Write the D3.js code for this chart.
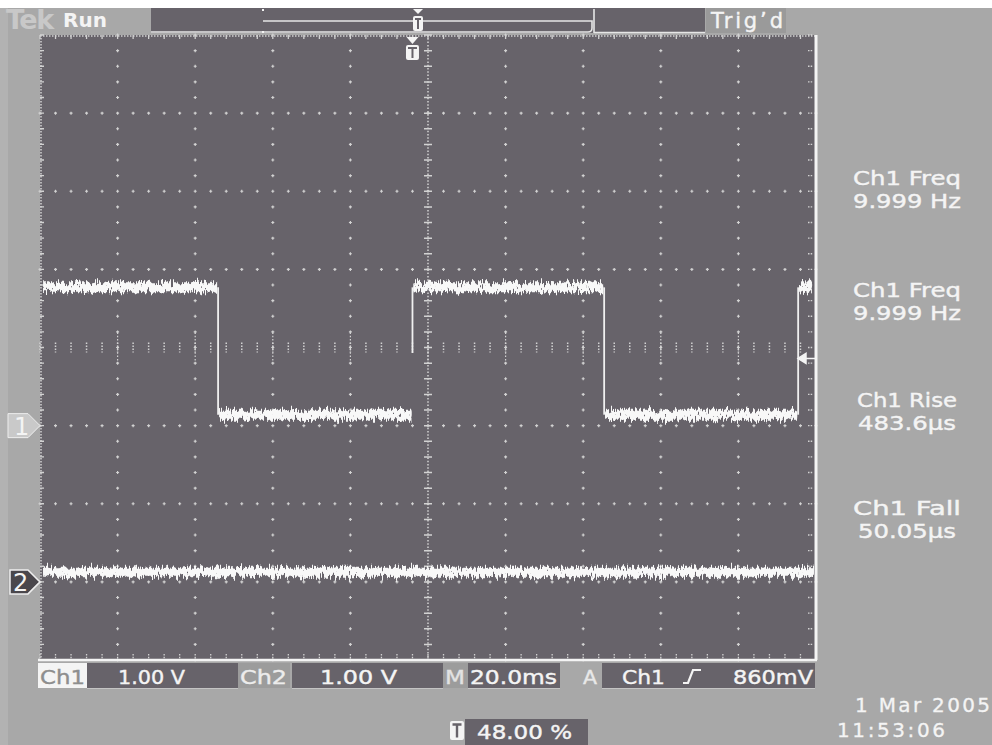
<!DOCTYPE html>
<html>
<head>
<meta charset="utf-8">
<script src="https://cdn.jsdelivr.net/npm/d3@7/dist/d3.min.js"></script>
<style>
  html, body { margin: 0; padding: 0; background: #a8a8a8; }
  svg { display: block; }
  text { font-family: "DejaVu Sans", "Noto Sans", sans-serif; }
</style>
</head>
<body>
<svg id="scope" width="992" height="745"></svg>
<script>
// ---- acquisition settings ----
const timePerDiv = 20;          // ms / div
const triggerPos = 0.48;        // trigger position in record
const ch1Offset = 5;            // divisions above ch1 ground
const ch2Offset = 7;            // divisions above ch2 ground
const triggerLevel = 0.86;      // V

// ---- channel 1: square wave, levels (V) between edges (ms) ----
const ch1Edges = [-50.1, 0.0, 49.4, 99.4];
const ch1Levels = [1.77, 0.14, 1.77, 0.14, 1.77];
const ch1EdgeSpans = [[1.77, 0.14], [0.93, 1.77], [1.77, 0.14], [0.14, 1.77]];
const traceStart = -95.2, traceEnd = 103.2;

// ---- channel 2: flat level (V) ----
const ch2Level = 0.13;

// ---- readouts ----
const measLabels = ["Ch1 Freq", "Ch1 Freq", "Ch1 Rise", "Ch1 Fall"];
const measValues = ["9.999 Hz", "9.999 Hz", "483.6\u03bcs", "50.05\u03bcs"];
const ch1Scale = "1.00 V", ch2Scale = "1.00 V", timeScale = "20.0ms";
const trigSource = "Ch1", trigLevelText = "860mV";
const trigPosText = "48.00 %";
const dateText = "1 Mar 2005", timeText = "11:53:06";

const svg = d3.select("#scope");
const SCREEN = "#67636a", BG = "#a8a8a8", DOT = "#d2d2d2", WHITE = "#f4f4f4";

const L = 40, R = 816, T = 35, B = 660;
const x = d3.scaleLinear().domain([-triggerPos * 10 * timePerDiv, (1 - triggerPos) * 10 * timePerDiv]).range([L, R]);
const yDiv = d3.scaleLinear().domain([0, 8]).range([T, B]);
const y1 = d3.scaleLinear().domain([ch1Offset - 8, ch1Offset]).range([B, T]);
const y2 = d3.scaleLinear().domain([ch2Offset - 8, ch2Offset]).range([B, T]);
const xDiv = d3.scaleLinear().domain([0, 10]).range([L, R]);

// noise filters for the traces
const defs = svg.append("defs");
[[3, 0.55], [11, 0.8], [29, 0.35]].forEach(([seed, f], i) => {
  const flt = defs.append("filter").attr("id", "noise" + i)
    .attr("filterUnits", "userSpaceOnUse").attr("x", 0).attr("y", 0).attr("width", 992).attr("height", 745);
  flt.append("feTurbulence").attr("type", "fractalNoise").attr("baseFrequency", f + " 0.03")
    .attr("numOctaves", 2).attr("seed", seed).attr("result", "t");
  flt.append("feColorMatrix").attr("in", "t").attr("type", "matrix")
    .attr("values", "0 0 0 0 0.5  0 1 0 0 0  0 0 0 0 0  0 0 0 0 1").attr("result", "m");
  flt.append("feDisplacementMap").attr("in", "SourceGraphic").attr("in2", "m")
    .attr("scale", 20).attr("xChannelSelector", "R").attr("yChannelSelector", "G");
});
const soft = defs.append("filter").attr("id", "soft");
soft.append("feGaussianBlur").attr("stdDeviation", 0.35);

// page background and margins
svg.append("rect").attr("width", 992).attr("height", 745).attr("fill", BG);
svg.append("rect").attr("width", 992).attr("height", 8).attr("fill", "#ffffff");
svg.append("rect").attr("y", 8).attr("width", 8).attr("height", 737).attr("fill", "#b2b2b2");

// screen
svg.append("rect").attr("x", L).attr("y", T).attr("width", R - L).attr("height", B - T).attr("fill", SCREEN);

// ---- graticule ----
const g = svg.append("g").attr("stroke", DOT).attr("fill", "none");
const minorX = d3.range(0, 50 + 1).map(i => xDiv(i / 5));
const minorY = d3.range(0, 40 + 1).map(i => yDiv(i / 5));
const cross = (px, py) => `M${px - 1.5},${py}h3M${px},${py - 1.5}v3`;

// dotted major lines
let p = "";
for (let i = 1; i < 10; i++) if (i !== 5) minorY.forEach(py => p += cross(xDiv(i), py));
for (let j = 1; j < 8; j++) if (j !== 4) minorX.forEach(px => p += cross(px, yDiv(j)));
g.append("path").attr("d", p).attr("stroke-width", 1.2);

// center axes with minor ticks
const cx = xDiv(5), cy = yDiv(4);
g.append("line").attr("x1", cx).attr("x2", cx).attr("y1", T).attr("y2", B)
  .attr("stroke-width", 1.5).attr("stroke-dasharray", "1.5,1.8");
g.append("path").attr("d", minorY.map(py => `M${cx - 4},${py}h8`).join("")).attr("stroke-width", 1.5);
g.append("path").attr("d", minorX.map(px => `M${px},${cy - 5}v10`).join(""))
  .attr("stroke-width", 1.5).attr("stroke-dasharray", "1.5,1.5");
g.append("path").attr("d", d3.range(1, 10).map(i => `M${xDiv(i)},${cy - 15}v30`).join(""))
  .attr("stroke-width", 1.2).attr("stroke-dasharray", "1.5,1.8");

// frame: dotted top and left, solid bottom and right
g.append("path").attr("d", `M${L},${T + 1}H${R}M${L + 1},${T}V${B}`)
  .attr("stroke-width", 1.5).attr("stroke-dasharray", "1.5,1.5");
g.append("path").attr("d", minorX.map(px => `M${px},${T}v4`).join("") + minorY.map(py => `M${L},${py}h4`).join(""))
  .attr("stroke-width", 1.3);
g.append("path").attr("d", minorX.map(px => `M${px},${B - 6}v6`).join("") + minorY.map(py => `M${R - 8},${py}h5`).join(""))
  .attr("stroke-width", 1.3).attr("stroke-dasharray", "1.5,1.2");
svg.append("line").attr("x1", L - 2).attr("x2", R + 1).attr("y1", B).attr("y2", B)
  .attr("stroke", WHITE).attr("stroke-width", 2.5);
svg.append("line").attr("x1", R).attr("x2", R).attr("y1", T).attr("y2", B)
  .attr("stroke", WHITE).attr("stroke-width", 3);

// ---- traces ----
const traces = svg.append("g");
const bounds = [traceStart, ...ch1Edges, traceEnd];
const ch1Segs = ch1Levels.map((v, i) => ({ t0: bounds[i], t1: bounds[i + 1], v }));
[0, 1, 2].forEach(k => {
  traces.append("g").attr("filter", `url(#noise${k})`)
    .selectAll("line").data(ch1Segs).join("line")
    .attr("x1", d => x(d.t0) + (d.t0 === traceStart ? 0 : 1)).attr("x2", d => x(d.t1) - 1)
    .attr("y1", d => y1(d.v)).attr("y2", d => y1(d.v))
    .attr("stroke", "#f8f8f8").attr("stroke-width", k === 2 ? 5 : 6);
  traces.append("line").attr("filter", `url(#noise${k})`)
    .attr("x1", x(traceStart)).attr("x2", x(traceEnd) + 1)
    .attr("y1", y2(ch2Level)).attr("y2", y2(ch2Level))
    .attr("stroke", "#f8f8f8").attr("stroke-width", k === 2 ? 5 : 6);
});
traces.selectAll("line.edge").data(ch1Edges).join("line").attr("class", "edge")
  .attr("x1", d => x(d)).attr("x2", d => x(d))
  .attr("y1", (d, i) => y1(ch1EdgeSpans[i][0])).attr("y2", (d, i) => y1(ch1EdgeSpans[i][1]))
  .attr("stroke", "#f0f0f0").attr("stroke-width", 1.8);

// trigger level arrow on the right
const ty = y1(triggerLevel);
svg.append("path").attr("d", `M${R - 18},${ty}l8,-5v10z M${R - 12},${ty}H${R}`)
  .attr("fill", WHITE).attr("stroke", WHITE).attr("stroke-width", 1.5);

// channel ground markers
const m1 = y1(0), m2 = y2(0);
svg.append("path").attr("d", `M8,${m1 - 12}H28L${L},${m1}L28,${m1 + 12}H8Z`)
  .attr("fill", "#c9c9c9").attr("stroke", "#eeeeee").attr("stroke-width", 1);
svg.append("text").attr("x", 14).attr("y", m1 + 9).attr("font-size", 24).attr("fill", "#f4f4f4").text("1");
svg.append("path").attr("d", `M10,${m2 - 12}H28L${L},${m2}L28,${m2 + 12}H10Z`)
  .attr("fill", "#4a474c").attr("stroke", "#eeeeee").attr("stroke-width", 1.5);
svg.append("text").attr("x", 13).attr("y", m2 + 9).attr("font-size", 24).attr("font-family", "Liberation Serif")
  .attr("fill", "#f4f4f4").text("2");

// trigger time marker below the top bar
const tx = x(0);
svg.append("path").attr("d", `M${tx - 6},37H${tx + 6}L${tx},44Z`).attr("fill", WHITE);
function tIcon(px, py, w, h) {
  svg.append("rect").attr("x", px - w / 2).attr("y", py).attr("width", w).attr("height", h)
    .attr("rx", 2).attr("fill", WHITE);
  svg.append("path").attr("d", `M${px - w / 2 + 2},${py + 3}h${w - 4}M${px},${py + 3}v${h - 5}`)
    .attr("stroke", SCREEN).attr("stroke-width", 2);
}
tIcon(tx, 45, 13, 15);

// ---- top status bar ----
svg.append("text").attr("x", 6).attr("y", 29).attr("font-size", 27).attr("font-weight", "bold")
  .attr("fill", "#c8c8c8").attr("letter-spacing", -1.5).text("Tek");
svg.append("text").attr("x", 63).attr("y", 27).attr("font-size", 20).attr("font-weight", "bold")
  .attr("fill", WHITE).text("Run");
svg.append("rect").attr("x", 151).attr("y", 8).attr("width", 554).attr("height", 25).attr("fill", SCREEN);
svg.append("path").attr("d", "M151,32H588Q592,32 592,28V21H263 M594,9V33 M594,32.5H705")
  .attr("fill", "none").attr("stroke", "#e6e6e6").attr("stroke-width", 1.6);
svg.append("path").attr("d", "M263,9v2M263,31v2").attr("stroke", WHITE).attr("stroke-width", 2);
svg.append("path").attr("d", "M413,9H423L418,14Z").attr("fill", WHITE);
tIcon(418, 16, 10, 15);
svg.append("rect").attr("x", 706).attr("y", 8).attr("width", 80).attr("height", 25).attr("fill", "#9a9a9a");
svg.append("text").attr("x", 711).attr("y", 28).attr("font-size", 21).attr("fill", WHITE)
  .attr("stroke", WHITE).attr("stroke-width", 0.4)
  .attr("textLength", 72).text("Trig\u2019d");

// ---- bottom readout bar ----
const bar = svg.append("g");
function box(x0, x1, fill) {
  bar.append("rect").attr("x", x0).attr("y", 663).attr("width", x1 - x0).attr("height", 25).attr("fill", fill);
}
function label(px, py, str, len, fill, size) {
  bar.append("text").attr("x", px).attr("y", py).attr("font-size", size || 19).attr("fill", fill || WHITE)
    .attr("stroke", fill || WHITE).attr("stroke-width", 0.4)
    .attr("textLength", len).attr("lengthAdjust", "spacingAndGlyphs").text(str);
}
box(38, 87, "#f4f4f4"); label(40, 684, "Ch1", 45, "#8e8e8e", 20);
box(87, 238, SCREEN); label(118, 684, ch1Scale, 67);
box(238, 290, "#9c9c9c"); label(240, 684, "Ch2", 47, "#ececec", 20);
box(292, 443, SCREEN); label(320, 684, ch2Scale, 77);
box(443, 468, "#9c9c9c"); label(445, 684, "M", 20, "#e2e2e2", 20);
box(468, 560, SCREEN); label(470, 684, timeScale, 87);
label(583, 684, "A", 14, "#e8e8e8");
box(602, 815, SCREEN); label(622, 684, trigSource, 43, WHITE, 20);
bar.append("path").attr("d", "M683,683h5l5,-13h8").attr("fill", "none").attr("stroke", WHITE).attr("stroke-width", 2.2);
label(733, 684, trigLevelText, 80);
bar.append("path").attr("d", "M87,688.5H238 M292,688.5H443 M468,688.5H560 M602,688.5H815")
  .attr("stroke", "#c4c4c4").attr("stroke-width", 1);

// trigger position readout
svg.append("rect").attr("x", 450).attr("y", 721).attr("width", 14).attr("height", 19).attr("rx", 2).attr("fill", WHITE);
svg.append("path").attr("d", "M452.5,724.5h9M457,724.5v13").attr("stroke", SCREEN).attr("stroke-width", 2.4);
svg.append("rect").attr("x", 465).attr("y", 719).attr("width", 123).attr("height", 26).attr("fill", SCREEN);
svg.append("text").attr("x", 477).attr("y", 739).attr("font-size", 19).attr("fill", WHITE)
  .attr("stroke", WHITE).attr("stroke-width", 0.4)
  .attr("textLength", 95).attr("lengthAdjust", "spacingAndGlyphs").text(trigPosText);

// date and time
svg.append("text").attr("x", 990).attr("y", 712).attr("text-anchor", "end").attr("font-size", 20)
  .attr("fill", WHITE).attr("stroke", WHITE).attr("stroke-width", 0.3)
  .attr("textLength", 135).text(dateText);
svg.append("text").attr("x", 837).attr("y", 737).attr("font-size", 20)
  .attr("fill", WHITE).attr("stroke", WHITE).attr("stroke-width", 0.3)
  .attr("textLength", 108).text(timeText);

// ---- measurement readouts ----
const measY = [185, 297, 407, 515];
const meas = svg.append("g").attr("fill", WHITE).attr("stroke", WHITE).attr("stroke-width", 0.4).attr("font-size", 20);
measLabels.forEach((lab, i) => {
  meas.append("text").attr("x", 907).attr("y", measY[i]).attr("text-anchor", "middle")
    .attr("textLength", i === 2 ? 100 : 108).attr("lengthAdjust", "spacingAndGlyphs").text(lab);
  meas.append("text").attr("x", 907).attr("y", measY[i] + 23).attr("text-anchor", "middle")
    .attr("textLength", i >= 2 ? 98 : 108).attr("lengthAdjust", "spacingAndGlyphs").text(measValues[i]);
});
</script>
</body>
</html>
